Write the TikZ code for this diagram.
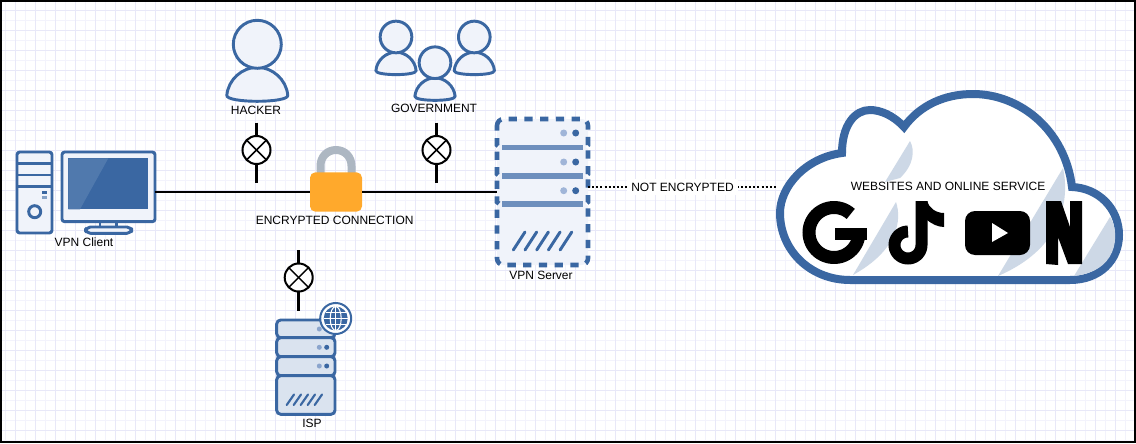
\documentclass[tikz,border=0pt]{standalone}
\usepackage{fontspec}
\setsansfont{Liberation Sans}
\usepackage{xcolor}
\usepackage{tikz}
\usetikzlibrary{positioning,calc}
\definecolor{icoB}{HTML}{3A67A2}
\definecolor{icoL}{HTML}{5079AD}
\definecolor{icoF}{HTML}{F0F3FA}
\definecolor{ispF}{HTML}{DAE3EF}
\definecolor{divB}{HTML}{6E8FBD}
\definecolor{dotL}{HTML}{A0B5D8}
\definecolor{shadeF}{HTML}{CDD8E6}
\definecolor{lockF}{HTML}{FFA92C}
\definecolor{lockG}{HTML}{ADB7C2}
\definecolor{gridA}{HTML}{E8E8F8}
\definecolor{gridB}{HTML}{F3F3FC}

\begin{document}
\begin{tikzpicture}[x=0.75pt,y=-0.75pt, font=\sffamily\fontsize{9}{10.8}\selectfont,
  icon/.style={line width=2.2pt, draw=icoB, fill=icoF, line join=round},
  link/.style={line width=1.5pt, draw=black},
  stub/.style={line width=2.25pt, draw=black},
  xmark/.style={circle, draw=black, line width=1.5pt, fill=white, minimum size=21pt, inner sep=0pt, outer sep=0pt,
    path picture={\draw[line width=1.1pt] (path picture bounding box.north west) -- (path picture bounding box.south east);
      \draw[line width=1.1pt] (path picture bounding box.north east) -- (path picture bounding box.south west);}},
  box/.style={inner sep=0pt, outer sep=0pt},
  person/.pic={
    \path[icon] (-30.5,51) .. controls (-29,35) and (-15,23) .. (0,23) .. controls (15,23) and (29,35) .. (30.5,51)
      .. controls (31,55) and (15,57) .. (0,57) .. controls (-15,57) and (-31,55) .. (-30.5,51) -- cycle;
    \path[icon] (0,0) circle (24);},
  ]

\useasboundingbox (0,0) rectangle (1136,443);

% === sheet and grid
\fill[white] (0,0) rectangle (1136,443);
\foreach \gx in {5.5,25.5,...,1135.5} {\draw[gridB, line width=0.75pt] (\gx,2) -- (\gx,441);}
\foreach \gy in {20.5,40.5,...,440.5} {\draw[gridB, line width=0.75pt] (2,\gy) -- (1134,\gy);}
\foreach \gx in {15.5,35.5,...,1125.5} {\draw[gridA, line width=0.75pt] (\gx,2) -- (\gx,441);}
\foreach \gy in {10.5,30.5,...,430.5} {\draw[gridA, line width=0.75pt] (2,\gy) -- (1134,\gy);}
\draw[black, line width=1.5pt] (1,1) rectangle (1135,442);

% === boxes the lines attach to
\node[box, minimum width=69.75pt, minimum height=52.5pt] (monitor) at (108.5,187) {};
\node[box, minimum width=68.25pt, minimum height=109.5pt] (vpnserver) at (542.5,192) {};
\node[box, minimum width=258.75pt, minimum height=146.25pt] (cloud) at (949.5,187) {};
\node[box, minimum width=43.5pt, minimum height=70.5pt] (ispserver) at (306,367) {};

% === client: tower
\draw[icon, rounded corners=2pt] (17,152) rectangle (52,233);
\foreach \y in {163.5,175,186.5} {\draw[line width=2.2pt, draw=icoB] (17,\y) -- (52,\y);}
\fill[icoB] (42,191) rectangle (47,193.5);
\fill[icoL!70] (42,196) rectangle (47,198.5);
\draw[line width=2.2pt, draw=icoB] (34.7,211.7) circle (6);

% === client: monitor
\draw[icon] (100,221) rectangle (116.5,227);
\draw[icon, rounded corners=3.5pt] (85.7,227) rectangle (131.7,233.3);
\draw[icon, rounded corners=2pt] (62,152) rectangle (155,221.7);
\fill[icoB] (68.3,158.3) rectangle (148.3,209.3);
\fill[icoL] (68.3,158.3) -- (108.3,158.3) -- (80,209.3) -- (68.3,209.3) -- cycle;
\node at (84,242) (clientlabel) {VPN Client};

% === encrypted link and lock
\draw[line width=6pt, draw=lockG] (320.5,175) -- (320.5,166) .. controls (320.5,157) and (327,150) .. (336,150)
  .. controls (345,150) and (351.5,157) .. (351.5,166) -- (351.5,175);
\node[box, fill=lockF, rounded corners=4pt, minimum width=39pt, minimum height=29.5pt] (lock) at (336,192) {};
\draw[link] (monitor.east |- lock) -- (lock.west);
\draw[link] (lock.east) -- (vpnserver.west |- lock);
\node at (334.7,220.7) (enclabel) {ENCRYPTED CONNECTION};

% === watchers
\pic at (257.3,44.3) {person};
\node at (256,110.7) (hackerlabel) {HACKER};
\pic[scale=0.66] at (396,37) {person};
\pic[scale=0.66] at (474.3,37) {person};
\pic[scale=0.66] at (435,62.7) {person};
\node at (434,108.7) (govlabel) {GOVERNMENT};

% === blocked taps
\foreach \nm/\x/\y in {hackermark/256.5/150,govmark/436.5/150,ispmark/298.7/277.5} {
  \node[xmark] (\nm) at (\x,\y) {};
  \coordinate (\nm top) at (\x,\y-27.5);
  \coordinate (\nm bot) at (\x,\y+33);
  \draw[stub] (\nm top) -- (\nm);
  \draw[stub] (\nm) -- (\nm bot);}

% === vpn server
\draw[line width=3.4pt, draw=icoB, fill=icoF, dash pattern=on 6.2pt off 5.6pt]
  (497,126) [rounded corners=5pt] -- (497,119) -- (588,119) [sharp corners] -- (588,145) -- (585.5,147) -- (588,149)
  -- (588,174) -- (585.5,176) -- (588,178) -- (588,202) -- (585.5,204) -- (588,206)
  [rounded corners=5pt] -- (588,265) -- (497,265) [sharp corners] -- (497,206) -- (499.5,204) -- (497,202)
  -- (497,178) -- (499.5,176) -- (497,174) -- (497,149) -- (499.5,147) -- (497,145) -- cycle;
\foreach \y in {147.5,176,204} {\draw[line width=4pt, draw=divB] (502,\y) -- (583,\y);}
\foreach \y in {133,162,190.7} {
  \fill[dotL] (563.7,\y) circle (3.5);
  \fill[icoB] (575.7,\y) circle (3.5);}
\foreach \k in {0,...,4} {
  \draw[line width=2.2pt, draw=icoB, line cap=round] (513.3+11.7*\k,250) -- (525+11.7*\k,232);}
\node at (541,275.7) (serverlabel) {VPN Server};

% === isp server
\foreach \a/\b in {320/337.7,337.7/356.7,356.7/375.7,375.7/414.3} {
  \draw[line width=2.2pt, draw=icoB, fill=ispF, rounded corners=3pt] (276.7,\a) rectangle (335,\b);}
\foreach \y in {329,347.3,366} {
  \fill[dotL!80!icoB] (319.3,\y) circle (2.5);
  \fill[icoB] (326.7,\y) circle (2.5);}
\foreach \k in {0,...,4} {
  \draw[line width=1.6pt, draw=icoB, line cap=round] (286.7+7*\k,405) -- (294+7*\k,394.5);}
\draw[line width=1.5pt, draw=icoB, fill=white] (335.7,318.5) circle (15.5);
\fill[icoB] (335.7,318.5) circle (12);
\draw[white, line width=0.8pt] (335.7,306.5) -- (335.7,330.5);
\draw[white, line width=0.8pt] (323.7,318.5) -- (347.7,318.5);
\draw[white, line width=0.8pt] (326,312.5) -- (345.5,312.5);
\draw[white, line width=0.8pt] (326,324.5) -- (345.5,324.5);
\draw[white, line width=0.8pt] (335.7,318.5) ellipse (5.5 and 12);
\node at (312,423) (isplabel) {ISP};

% === unencrypted side
\draw[line width=1.5pt, draw=black, dash pattern=on 1.5pt off 1.6pt] (vpnserver.east |- cloud.west) -- (cloud.west)
  node[midway, fill=white, inner sep=3pt] (plainlabel) {NOT ENCRYPTED};

% === cloud
\draw[line width=6pt, draw=icoB, fill=white] (850,280) -- (1070,280)
  .. controls (1100,280) and (1119,260) .. (1119,235) .. controls (1119,208) and (1098,188) .. (1072,187)
  .. controls (1065,130) and (1020,94) .. (973,94) .. controls (945,94) and (920,105) .. (904,127)
  .. controls (893,115) and (880,110) .. (870,110) .. controls (855,110) and (842,125) .. (842,153)
  .. controls (805,158) and (780,187) .. (780,213) .. controls (780,250) and (810,280) .. (850,280) -- cycle;
\fill[shadeF] (910,141) .. controls (915,150) and (914,165) .. (900,178) -- (885,182) -- cycle;
\fill[shadeF] (896,202) .. controls (902,220) and (898,250) .. (853,275) -- cycle;
\fill[shadeF] (1063,168) .. controls (1068,190) and (1070,245) .. (998,276) -- cycle;
\fill[shadeF] (1110,217) .. controls (1117,225) and (1125,270) .. (1074,276) -- cycle;
\node at (948,186) (cloudlabel) {WEBSITES AND ONLINE SERVICE};

% === service logos
\draw[line width=9.75pt, draw=black] plot[domain=-48:-355, samples=50] ({834+25*cos(\x)},{232.5+25*sin(\x)});
\fill[black] (835,228) rectangle (867,240);
\draw[line width=9pt, draw=black] plot[domain=-90:-360, samples=40] ({908+13.5*cos(\x)},{245+13.5*sin(\x)}) -- (921.5,201);
\fill[black] (927,201) .. controls (929,208) and (936,213) .. (944,213) -- (944,227)
  .. controls (938,227) and (932,224) .. (927,220) -- cycle;
\fill[black, rounded corners=7.5pt] (965,211) rectangle (1030,255);
\fill[white] (992,223) -- (1008,233) -- (992,242) -- cycle;
\fill[black] (1046,201) -- (1061,201) -- (1070,227) -- (1070,201) -- (1082,201) -- (1082,264) -- (1068,264)
  -- (1058,237) -- (1058,265) -- (1046,264) -- cycle;

\end{tikzpicture}
\end{document}
